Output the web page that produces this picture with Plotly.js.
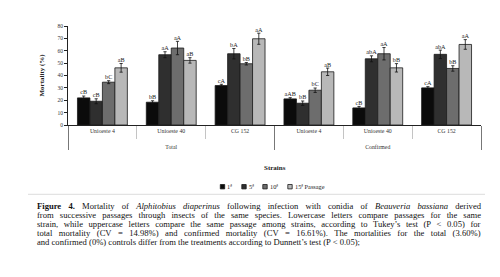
<!DOCTYPE html>
<html>
<head>
<meta charset="utf-8">
<script src="https://cdn.plot.ly/plotly-3.0.1.min.js"></script>
<style>
html,body{margin:0;padding:0;background:#fff;}
#chart{width:500px;height:277px;}
</style>
</head>
<body>
<div id="chart"></div>
<script>
// ---- data ----
const groups = ["Total", "Total", "Total", "Confirmed", "Confirmed", "Confirmed"];
const strains = ["Unioeste 4", "Unioeste 40", "CG 152", "Unioeste 4", "Unioeste 40", "CG 152"];
const passageNames = ["1ª", "5ª", "10ª", "15ª Passage"];

const p1 = [21.9, 18.4, 31.9, 21.1, 13.8, 30.0];
const p5 = [19.2, 56.8, 57.6, 17.6, 53.5, 57.1];
const p10 = [34.6, 62.2, 49.5, 28.1, 57.6, 45.7];
const p15 = [46.2, 52.2, 69.7, 43.0, 46.2, 65.1];

const e1 = [1.5, 1.2, 1.0, 1.0, 1.2, 1.0];
const e5 = [2.0, 2.4, 4.2, 1.8, 2.4, 3.4];
const e10 = [1.2, 5.4, 1.0, 1.8, 5.0, 2.2];
const e15 = [3.5, 2.2, 4.5, 3.0, 3.4, 3.9];

const L1 = ["cB", "bB", "cA", "aAB", "cB", "cA"];
const L5 = ["cB", "aA", "bA", "bB", "abA", "abA"];
const L10 = ["bC", "aA", "bB", "bC", "aA", "bB"];
const L15 = ["aB", "aB", "aA", "aB", "bB", "aA"];

const captionLines = [
  "<b>Figure 4.</b> Mortality of <i>Alphitobius diaperinus</i> following infection with conidia of <i>Beauveria bassiana</i> derived",
  "from successive passages through insects of the same species. Lowercase letters compare passages for the same",
  "strain, while uppercase letters compare the same passage among strains, according to Tukey’s test (P < 0.05) for",
  "total mortality (CV = 14.98%) and confirmed mortality (CV = 16.61%). The mortalities for the total (3.60%)",
  "and confirmed (0%) controls differ from the treatments according to Dunnett’s test (P < 0.05);"
];

// ---- styles ----
const FONT = "Liberation Serif, Times New Roman, serif";
const colors = ["#0b0b0b", "#2f2f2f", "#6d6d6d", "#b8b8b8"];
const values = [p1, p5, p10, p15];
const errs = [e1, e5, e10, e15];
const letters = [L1, L5, L10, L15];

const W = 500, H = 277;
const M = {l: 68, r: 19, t: 26, b: 152};
const plotH = H - M.t - M.b;
function py(pix) { return (H - M.b - pix) / plotH; }
function px(pix) { return (pix - M.l) / (W - M.l - M.r); }

// first-row labels get an empty second line so the outer row sits lower, as in the figure
const strainLabels = strains.map(s => s + "<br>\u00a0");

const traces = [];
values.forEach((v, i) => {
  traces.push({
    type: "bar",
    name: passageNames[i],
    x: [groups, strainLabels],
    y: v,
    offsetgroup: String(i),
    marker: {color: colors[i], line: {color: "#1a1a1a", width: 0.8}},
    error_y: {type: "data", array: errs[i], visible: true, color: "#111", thickness: 0.8, width: 1.6},
    showlegend: false,
    hoverinfo: "skip"
  });
});
values.forEach((v, i) => {
  traces.push({
    type: "scatter",
    mode: "text",
    x: [groups, strainLabels],
    y: v.map((val, k) => val + errs[i][k]),
    text: letters[i],
    textposition: "top center",
    textfont: {family: FONT, size: 6.2, color: "#222"},
    offsetgroup: String(i),
    showlegend: false,
    cliponaxis: false,
    hoverinfo: "skip"
  });
});

// ---- caption justification (word spacing from measured widths) ----
const CAP_SIZE = 8.6;
const canvas = document.createElement("canvas");
const ctx = canvas.getContext("2d");
function measureLine(line) {
  let w = 0, spaces = 0;
  const parts = line.split(/(<\/?[bi]>)/);
  let bold = false, ital = false;
  parts.forEach(p => {
    if (p === "<b>") bold = true;
    else if (p === "</b>") bold = false;
    else if (p === "<i>") ital = true;
    else if (p === "</i>") ital = false;
    else if (p) {
      ctx.font = (ital ? "italic " : "") + (bold ? "bold " : "") + CAP_SIZE + "px 'Liberation Serif'";
      w += ctx.measureText(p).width;
      spaces += (p.match(/ /g) || []).length;
    }
  });
  return {w, spaces};
}
const CAP_LEFT = 36, CAP_RIGHT = 480;
const annotations = captionLines.map((t, i) => {
  let text = t;
  if (i < captionLines.length - 1) {
    const m = measureLine(t);
    const ws = Math.max(0, (CAP_RIGHT - CAP_LEFT - m.w) / m.spaces);
    text = '<span style="word-spacing:' + ws.toFixed(2) + 'px">' + t + '</span>';
  }
  return {
    xref: "paper", yref: "paper",
    x: px(CAP_LEFT), y: py(206 + i * 8.9),
    xanchor: "left", yanchor: "middle",
    text: text, showarrow: false, align: "left", borderpad: 0,
    font: {family: FONT, size: CAP_SIZE, color: "#111"}
  };
});

// axis titles
annotations.push({
  xref: "paper", yref: "paper", x: 0.5, y: py(167.7), xanchor: "center", yanchor: "middle",
  text: "<b>Strains</b>", showarrow: false, borderpad: 0, font: {family: FONT, size: 7, color: "#222"}
});
annotations.push({
  xref: "paper", yref: "paper", x: px(41), y: 0.5, xanchor: "center", yanchor: "middle",
  textangle: -90, text: "<b>Mortality (%)</b>", showarrow: false, borderpad: 0,
  font: {family: FONT, size: 7, color: "#222"}
});

// ---- legend (small squares + labels) ----
const legendSquareX = [222.5, 244, 265, 290];
const shapes = [{
  type: "line", xref: "paper", yref: "paper",
  x0: px(28), x1: px(485), y0: py(194.3), y1: py(194.3),
  line: {color: "#dcdcdc", width: 1}
}];
passageNames.forEach((n, i) => {
  const cx = legendSquareX[i], cy = 186.7, s = 2.2;
  shapes.push({
    type: "rect", xref: "paper", yref: "paper",
    x0: px(cx - s), x1: px(cx + s), y0: py(cy + s), y1: py(cy - s),
    fillcolor: colors[i], line: {color: "#1a1a1a", width: 0.8}
  });
  annotations.push({
    xref: "paper", yref: "paper", x: px(cx + 3.5), y: py(cy), xanchor: "left", yanchor: "middle",
    text: n, showarrow: false, borderpad: 0, font: {family: FONT, size: 6.3, color: "#222"}
  });
});

const layout = {
  width: W, height: H,
  margin: M,
  paper_bgcolor: "#fff", plot_bgcolor: "#fff",
  font: {family: FONT, color: "#222"},
  barmode: "group",
  bargap: 0.275,
  bargroupgap: 0,
  scattermode: "group",
  scattergap: 0.275,
  showlegend: false,
  xaxis: {
    type: "multicategory",
    showline: true, linecolor: "#222", linewidth: 1,
    ticks: "outside", tickson: "boundaries", ticklen: 13, tickcolor: "#c4c4c4", tickwidth: 1,
    tickfont: {family: FONT, size: 5.8, color: "#333"},
    showdividers: true, dividercolor: "#777", dividerwidth: 1,
    showgrid: false, zeroline: false
  },
  yaxis: {
    range: [0, 80], dtick: 10,
    showline: true, linecolor: "#222", linewidth: 1,
    ticks: "outside", ticklen: 3, tickcolor: "#222",
    tickfont: {family: FONT, size: 5.5, color: "#333"},
    showgrid: false, zeroline: false
  },
  shapes: shapes,
  annotations: annotations
};

Plotly.newPlot("chart", traces, layout, {displayModeBar: false, staticPlot: true});
</script>
</body>
</html>
